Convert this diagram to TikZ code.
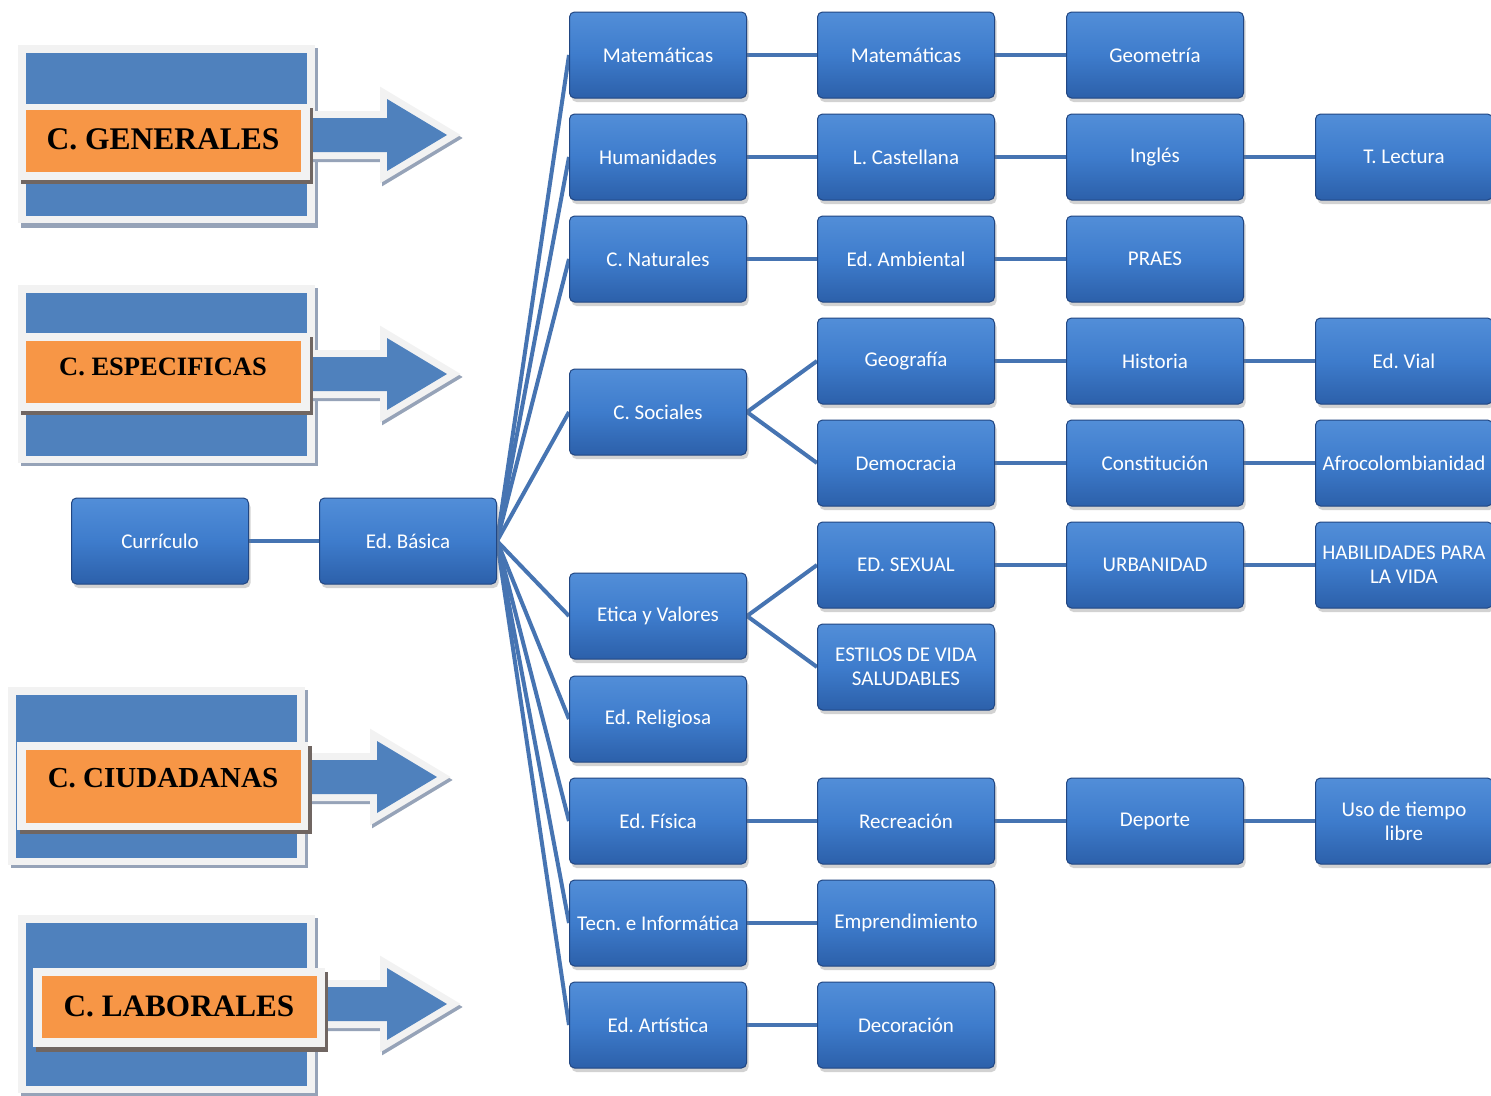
\documentclass[tikz,border=0pt]{standalone}
\usepackage{fontspec}
\setmainfont{Carlito}
\newfontfamily\timesfam{Liberation Serif}
\usetikzlibrary{shadows}
\frenchspacing
\pgfdeclarelayer{background}
\pgfsetlayers{background,main}
\definecolor{frameGray}{RGB}{242,242,242}
\definecolor{frameShadow}{RGB}{150,163,184}
\definecolor{blockBlue}{RGB}{79,129,189}
\definecolor{bandOrange}{RGB}{247,150,70}
\definecolor{bandShadow}{RGB}{112,102,98}
\definecolor{boxTop}{RGB}{82,142,216}
\definecolor{boxMid}{RGB}{62,124,204}
\definecolor{boxBot}{RGB}{44,96,170}
\definecolor{boxEdge}{RGB}{33,70,130}
\definecolor{linkBlue}{RGB}{70,116,178}
\newcommand{\myBigArrow}[4]{%
  \draw[line width=14pt, draw=frameShadow, line join=miter, shift={(2,3)}]
    (#1,#4-17) -- (#2,#4-17) -- (#2,#4-36) -- (#3,#4) -- (#2,#4+36) -- (#2,#4+17) -- (#1,#4+17) -- cycle;
  \draw[line width=14pt, draw=frameGray, line join=miter]
    (#1,#4-17) -- (#2,#4-17) -- (#2,#4-36) -- (#3,#4) -- (#2,#4+36) -- (#2,#4+17) -- (#1,#4+17) -- cycle;
  \fill[blockBlue]
    (#1,#4-17) -- (#2,#4-17) -- (#2,#4-36) -- (#3,#4) -- (#2,#4+36) -- (#2,#4+17) -- (#1,#4+17) -- cycle;
}
\tikzset{
  bluebox/.style={rectangle, rounded corners=5pt, minimum width=177pt, minimum height=86pt,
    inner sep=1pt, align=center, text=white, font=\fontsize{21}{24}\selectfont,
    top color=boxTop, bottom color=boxBot, middle color=boxMid, draw=boxEdge, line width=1pt,
    drop shadow={shadow xshift=2pt, shadow yshift=-4pt, opacity=0.35}},
  link/.style={draw=linkBlue, line width=4pt},
  bandlabel/.style={inner sep=0pt, text=black},
}
\begin{document}
\begin{tikzpicture}[x=1pt,y=-1pt]
\useasboundingbox (0,0) rectangle (1491,1095);
\begin{pgfonlayer}{background}
\fill[white] (0,0) rectangle (1491,1095);
\end{pgfonlayer}

% ---------- C. GENERALES ----------
\fill[frameShadow] (21,48) rectangle (318,228);
\fill[frameGray] (18,45) rectangle (315,223);
\fill[blockBlue] (26,53) rectangle (307,216);
\myBigArrow{300}{387}{447}{135}
\fill[bandShadow] (21,108) rectangle (313,184);
\fill[frameGray] (18,104) rectangle (310,180);
\fill[bandOrange] (26,110) rectangle (301,172);
\node[bandlabel, font=\timesfam\bfseries\fontsize{31.5}{34}\selectfont] (gen) at (163,139) {C. GENERALES};

% ---------- C. ESPECIFICAS ----------
\fill[frameShadow] (21,288) rectangle (318,466);
\fill[frameGray] (18,285) rectangle (315,463);
\fill[blockBlue] (26,293) rectangle (307,456);
\myBigArrow{300}{387}{447}{374}
\fill[bandShadow] (21,337) rectangle (313,415);
\fill[frameGray] (18,333) rectangle (310,411);
\fill[bandOrange] (26,341) rectangle (301,403);
\node[bandlabel, font=\timesfam\bfseries\fontsize{26.5}{30}\selectfont] (esp) at (163,367) {C. ESPECIFICAS};

% ---------- C. CIUDADANAS ----------
\fill[frameShadow] (11,690) rectangle (308,868);
\fill[frameGray] (8,687) rectangle (305,865);
\fill[blockBlue] (16,695) rectangle (297,858);
\myBigArrow{298}{377}{437}{777}
\fill[bandShadow] (20,746) rectangle (312,834);
\fill[frameGray] (17,742) rectangle (308,830);
\fill[bandOrange] (26,750) rectangle (301,823);
\node[bandlabel, font=\timesfam\bfseries\fontsize{29}{32}\selectfont] (ciu) at (163,778) {C. CIUDADANAS};

% ---------- C. LABORALES ----------
\fill[frameShadow] (21,918) rectangle (318,1098);
\fill[frameGray] (18,915) rectangle (315,1093);
\fill[blockBlue] (26,923) rectangle (307,1086);
\myBigArrow{315}{387}{447}{1004}
\fill[bandShadow] (36,972) rectangle (328,1052);
\fill[frameGray] (33,968) rectangle (325,1047);
\fill[bandOrange] (42,976) rectangle (317,1038);
\node[bandlabel, font=\timesfam\bfseries\fontsize{31.2}{34}\selectfont] (lab) at (179,1006) {C. LABORALES};

% ---------- boxes ----------
\node[bluebox] (cur) at (160,541) {Currículo};
\node[bluebox] (edb) at (408,541) {Ed. Básica};

\node[bluebox] (m1) at (658,55) {Matemáticas};
\node[bluebox] (h1) at (658,157) {Humanidades};
\node[bluebox] (n1) at (658,259) {C. Naturales};
\node[bluebox] (s1) at (658,412) {C. Sociales};
\node[bluebox] (e1) at (658,616) {Etica y Valores};
\node[bluebox] (r1) at (658,719) {Ed. Religiosa};
\node[bluebox] (f1) at (658,821) {Ed. Física};
\node[bluebox] (t1) at (658,923) {Tecn. e Informática};
\node[bluebox] (a1) at (658,1025) {Ed. Artística};

\node[bluebox] (m2) at (906,55) {Matemáticas};
\node[bluebox] (l2) at (906,157) {L. Castellana};
\node[bluebox] (am2) at (906,259) {Ed. Ambiental};
\node[bluebox] (g2) at (906,361) {Geografía};
\node[bluebox] (d2) at (906,463) {Democracia};
\node[bluebox] (sx2) at (906,565) {ED. SEXUAL};
\node[bluebox] (es2) at (906,667) {ESTILOS DE VIDA\\SALUDABLES};
\node[bluebox] (rc2) at (906,821) {Recreación};
\node[bluebox] (em2) at (906,923) {Emprendimiento};
\node[bluebox] (dc2) at (906,1025) {Decoración};

\node[bluebox] (g3) at (1155,55) {Geometría};
\node[bluebox] (i3) at (1155,157) {Inglés};
\node[bluebox] (p3) at (1155,259) {PRAES};
\node[bluebox] (hi3) at (1155,361) {Historia};
\node[bluebox] (co3) at (1155,463) {Constitución};
\node[bluebox] (u3) at (1155,565) {URBANIDAD};
\node[bluebox] (dp3) at (1155,821) {Deporte};

\node[bluebox] (tl4) at (1404,157) {T. Lectura};
\node[bluebox] (v4) at (1404,361) {Ed. Vial};
\node[bluebox] (af4) at (1404,463) {Afrocolombianidad};
\node[bluebox] (hb4) at (1404,565) {HABILIDADES PARA\\LA VIDA};
\node[bluebox] (ut4) at (1404,821) {Uso de tiempo\\libre};

% ---------- connectors (behind boxes) ----------
\begin{pgfonlayer}{background}
\foreach \t in {m1,h1,n1,s1,e1,r1,f1,t1,a1} {
  \draw[link] (edb.east) -- (\t.west);
}
\draw[link] (cur) -- (edb);
\draw[link] (m1) -- (m2); \draw[link] (m2) -- (g3);
\draw[link] (h1) -- (l2); \draw[link] (l2) -- (i3); \draw[link] (i3) -- (tl4);
\draw[link] (n1) -- (am2); \draw[link] (am2) -- (p3);
\draw[link] (s1.east) -- (g2.west); \draw[link] (s1.east) -- (d2.west);
\draw[link] (g2) -- (hi3); \draw[link] (hi3) -- (v4);
\draw[link] (d2) -- (co3); \draw[link] (co3) -- (af4);
\draw[link] (e1.east) -- (sx2.west); \draw[link] (e1.east) -- (es2.west);
\draw[link] (sx2) -- (u3); \draw[link] (u3) -- (hb4);
\draw[link] (f1) -- (rc2); \draw[link] (rc2) -- (dp3); \draw[link] (dp3) -- (ut4);
\draw[link] (t1) -- (em2);
\draw[link] (a1) -- (dc2);
\end{pgfonlayer}
\end{tikzpicture}
\end{document}
